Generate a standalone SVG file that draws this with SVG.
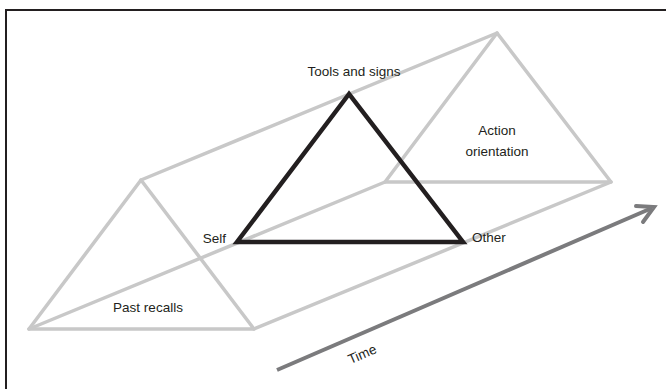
<svg xmlns="http://www.w3.org/2000/svg" width="666" height="389" viewBox="0 0 666 389">
  <defs>
    <style>
      .frame { fill: none; stroke: #231f20; stroke-width: 2; }
      .prism { fill: none; stroke: #c8c8c8; stroke-width: 3.5; stroke-linecap: round; stroke-linejoin: round; }
      .tri { fill: none; stroke: #231f20; stroke-width: 4.5; stroke-linejoin: miter; stroke-miterlimit: 10; }
      .time { fill: none; stroke: #7b7b7d; stroke-width: 4; stroke-linecap: butt; }
      .head { fill: none; stroke: #7b7b7d; stroke-width: 4; stroke-linecap: round; stroke-linejoin: miter; }
      .lbl { font-family: "Liberation Sans", Arial, sans-serif; font-size: 13.5px; fill: #231f20; }
    </style>
  </defs>
  <rect width="666" height="389" fill="#ffffff"/>

  <!-- frame: top and left rules -->
  <path class="frame" d="M6 389 V10 H666"/>

  <!-- triangular prism running along the time axis -->
  <g id="prism">
    <polygon class="prism" points="141,180 29,329 254,329"/>
    <polygon class="prism" points="497,33 385,182 611,182"/>
    <line class="prism" x1="141" y1="180" x2="497" y2="33"/>
    <line class="prism" x1="29" y1="329" x2="385" y2="182"/>
    <line class="prism" x1="254" y1="329" x2="611" y2="182"/>
  </g>

  <!-- mediating triangle -->
  <g id="mediation">
    <polygon class="tri" points="349,94 237,242 463,242"/>
  </g>

  <!-- time arrow -->
  <g id="connectors">
    <line class="time" x1="277" y1="370" x2="652" y2="208"/>
    <polyline class="head" points="636,206 654,207 643,222"/>
  </g>

  <g id="tools"><text class="lbl" x="354" y="76" text-anchor="middle">Tools and signs</text></g>
  <g id="action">
    <text class="lbl" x="497" y="135" text-anchor="middle">Action</text>
    <text class="lbl" x="497" y="156" text-anchor="middle">orientation</text>
  </g>
  <g id="self"><text class="lbl" x="226" y="243" text-anchor="end">Self</text></g>
  <g id="other"><text class="lbl" x="472" y="242">Other</text></g>
  <g id="past"><text class="lbl" x="148" y="312" text-anchor="middle">Past recalls</text></g>
  <g id="time"><text class="lbl" x="364" y="358.5" text-anchor="middle" transform="rotate(-23.4 364 358.5)">Time</text></g>
</svg>
